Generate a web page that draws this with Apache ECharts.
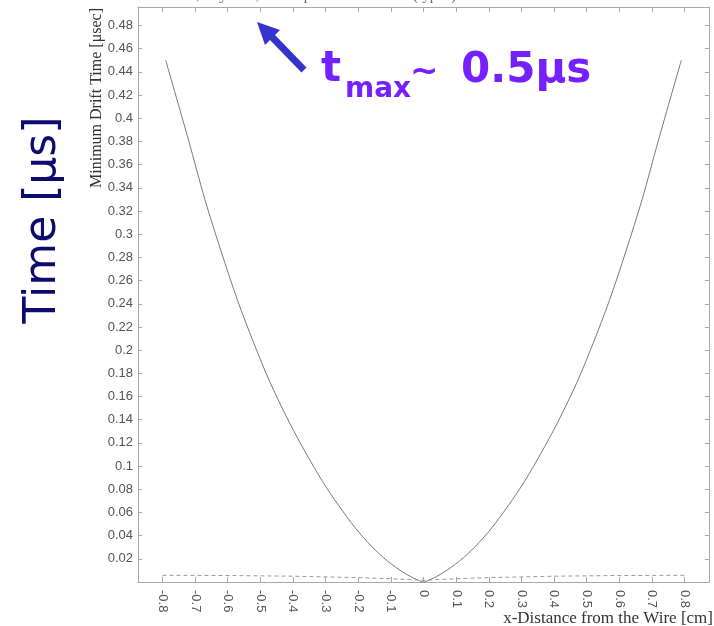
<!DOCTYPE html>
<html>
<head>
<meta charset="utf-8">
<script src="https://cdn.jsdelivr.net/npm/echarts@6/dist/echarts.min.js"></script>
<style>
  html, body { margin: 0; padding: 0; background: #fff; }
  #chart { width: 714px; height: 626px; }
</style>
</head>
<body>
<div id="chart"></div>
<script>
// drift time vs. distance from the wire
const distance = [
  -0.79, -0.72, -0.67, -0.62, -0.57, -0.52, -0.47, -0.41, -0.36, -0.31, -0.26, -0.21, -0.16, -0.11, -0.06, -0.02, 0,
  0.02, 0.06, 0.11, 0.16, 0.21, 0.26, 0.31, 0.36, 0.41, 0.47, 0.52, 0.57, 0.62, 0.67, 0.72, 0.79
]
const driftTime = [
  0.450, 0.381, 0.330, 0.285, 0.243, 0.206, 0.172, 0.137, 0.111, 0.087, 0.066, 0.047, 0.031, 0.018, 0.008, 0.002, 0,
  0.002, 0.008, 0.018, 0.031, 0.047, 0.066, 0.087, 0.111, 0.137, 0.172, 0.206, 0.243, 0.285, 0.330, 0.381, 0.450
]
// dashed baseline near zero
const baseX = [-0.8, -0.6, -0.4, -0.2, -0.1, 0, 0.1, 0.2, 0.4, 0.6, 0.8]
const baseT = [0.0058, 0.0056, 0.0050, 0.0038, 0.0028, 0.0015, 0.0028, 0.0038, 0.0050, 0.0056, 0.0058]

const xTicks = [-0.8, -0.7, -0.6, -0.5, -0.4, -0.3, -0.2, -0.1, 0, 0.1, 0.2, 0.3, 0.4, 0.5, 0.6, 0.7, 0.8]
const yTicks = [0.02, 0.04, 0.06, 0.08, 0.1, 0.12, 0.14, 0.16, 0.18, 0.2, 0.22, 0.24, 0.26, 0.28, 0.3,
  0.32, 0.34, 0.36, 0.38, 0.4, 0.42, 0.44, 0.46, 0.48]

const axisGray = '#a8a8a8'
const labelStyle = { color: '#555', fontFamily: 'Liberation Sans', fontSize: 13 }

const fmt = v => String(+(+v).toFixed(2))

const options = {
  animation: false,
  grid: { left: 138, right: 5, top: 7, bottom: 44, containLabel: false },
  xAxis: [
    {
      type: 'value',
      min: -0.875,
      max: 0.875,
      splitLine: { show: false },
      axisLine: { onZero: false, lineStyle: { color: axisGray } },
      axisTick: { inside: true, length: 5, customValues: xTicks, lineStyle: { color: axisGray } },
      axisLabel: { ...labelStyle, customValues: xTicks, rotate: -90, margin: 8, formatter: fmt }
    },
    {
      type: 'value',
      position: 'top',
      min: -0.875,
      max: 0.875,
      splitLine: { show: false },
      axisLine: { onZero: false, lineStyle: { color: axisGray } },
      axisTick: { inside: true, length: 5, customValues: xTicks, lineStyle: { color: axisGray } },
      axisLabel: { show: false }
    }
  ],
  yAxis: [
    {
      type: 'value',
      min: 0,
      max: 0.496,
      splitLine: { show: false },
      axisLine: { show: true, onZero: false, lineStyle: { color: axisGray } },
      axisTick: { show: true, inside: true, length: 4, customValues: yTicks, lineStyle: { color: axisGray } },
      axisLabel: { ...labelStyle, customValues: yTicks, margin: 5, formatter: fmt }
    },
    {
      type: 'value',
      position: 'right',
      min: 0,
      max: 0.496,
      splitLine: { show: false },
      axisLine: { show: true, onZero: false, lineStyle: { color: axisGray } },
      axisTick: { show: true, inside: true, length: 4, customValues: yTicks, lineStyle: { color: axisGray } },
      axisLabel: { show: false }
    }
  ],
  series: [
    {
      type: 'line',
      smooth: 0.3,
      symbol: 'none',
      lineStyle: { color: '#7a7a7a', width: 1 },
      data: distance.map((x, i) => [x, driftTime[i]])
    },
    {
      type: 'line',
      symbol: 'none',
      lineStyle: { color: '#9a9a9a', width: 1, type: [4, 3] },
      data: baseX.map((x, i) => [x, baseT[i]])
    }
  ],
  graphic: [
    // clipped plot title at the very top
    {
      type: 'text', x: 140, y: -11,
      style: { text: 'Lines 0.0, Layers 5, Overlap Channels  =  0   (type1)', font: '15px "Liberation Serif"', fill: '#666' }
    },
    {
      type: 'text', x: 97, y: 8, rotation: Math.PI / 2,
      style: { text: 'Minimum Drift Time [μsec]', font: '16px "Liberation Serif"', fill: '#333', align: 'right', verticalAlign: 'middle' }
    },
    {
      type: 'text', x: 713, y: 619,
      style: { text: 'x-Distance from the Wire [cm]', font: '17px "Liberation Serif"', fill: '#333', align: 'right', verticalAlign: 'middle' }
    },
    {
      type: 'text', x: 44, y: 220, rotation: Math.PI / 2,
      style: { text: 'Time [μs]', font: '44px "DejaVu Sans"', fill: '#0c0c6e', align: 'center', verticalAlign: 'middle' }
    },
    // t_max ~ 0.5 μs annotation
    {
      type: 'text', x: 321, y: 91,
      style: { text: 't', font: 'bold 42px "DejaVu Sans"', fill: '#7520ff', verticalAlign: 'bottom' }
    },
    {
      type: 'text', x: 345, y: 104,
      style: { text: 'max', font: 'bold 28px "DejaVu Sans"', fill: '#7520ff', verticalAlign: 'bottom' }
    },
    {
      type: 'text', x: 410, y: 90,
      style: { text: '~', font: 'bold 34px "DejaVu Sans"', fill: '#7520ff', verticalAlign: 'bottom' }
    },
    {
      type: 'text', x: 461, y: 92,
      style: { text: '0.5μs', font: 'bold 42px "DejaVu Sans"', fill: '#7520ff', verticalAlign: 'bottom' }
    },
    // arrow
    {
      type: 'line',
      shape: { x1: 304, y1: 70, x2: 272, y2: 37 },
      style: { stroke: '#3434cc', lineWidth: 7 }
    },
    {
      type: 'polygon',
      shape: { points: [[257, 22], [280, 30], [265, 45]] },
      style: { fill: '#3434cc' }
    }
  ]
}

const myChart = echarts.init(document.getElementById('chart'))
myChart.setOption(options)
</script>
</body>
</html>
